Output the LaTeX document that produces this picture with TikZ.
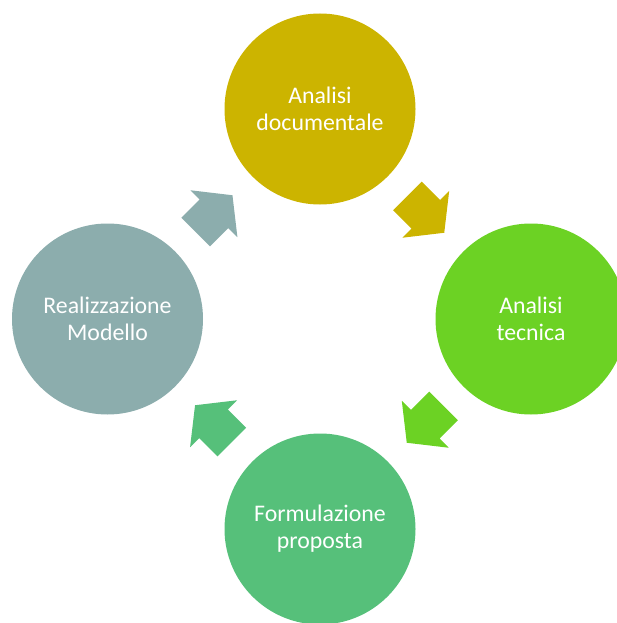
\documentclass[tikz,border=0pt]{standalone}
\usepackage{fontspec}
\setmainfont{Carlito}
\usetikzlibrary{shapes.arrows,calc}

\definecolor{oroDoc}{RGB}{204,180,0}
\definecolor{verdeTec}{RGB}{108,210,36}
\definecolor{verdeProp}{RGB}{86,192,122}
\definecolor{grigioMod}{RGB}{140,173,173}

\tikzset{
  fase/.style={circle, minimum size=191pt, inner sep=0pt, text=white,
    align=center, font=\fontsize{23.8}{27}\selectfont},
  freccia/.style={single arrow, minimum height=52pt, inner xsep=0pt,
    inner ysep=20pt, single arrow head extend=13pt,
    single arrow tip angle=103.5}
}

\begin{document}
\begin{tikzpicture}[x=1pt,y=-1pt]
  \clip (0,0) rectangle (617,623);

  % Fasi del ciclo
  \node[fase, fill=oroDoc]    (doc)  at (320,109) {Analisi\\documentale};
  \node[fase, fill=verdeTec]  (tec)  at (531,319) {Analisi\\tecnica};
  \node[fase, fill=verdeProp] (prop) at (320,529) {Formulazione\\proposta};
  \node[fase, fill=grigioMod] (mod)  at (107.5,319) {Realizzazione\\Modello};

  % Frecce tra le fasi
  \node[freccia, fill=oroDoc,    rotate=-45]  (f1) at ($(doc)!0.475!(tec)$) {};
  \node[freccia, fill=verdeTec,  rotate=-135] (f2) at ($(tec)!0.475!(prop)$) {};
  \node[freccia, fill=verdeProp, rotate=135]  (f3) at ($(prop)!0.475!(mod)$) {};
  \node[freccia, fill=grigioMod, rotate=45]   (f4) at ($(mod)!0.475!(doc)$) {};
\end{tikzpicture}
\end{document}
